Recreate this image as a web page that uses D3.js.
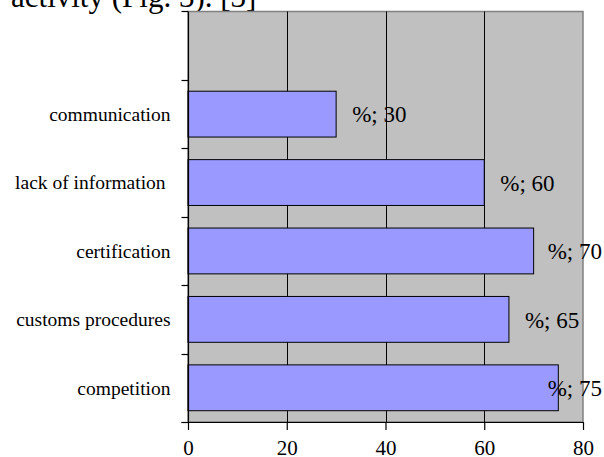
<!DOCTYPE html>
<html>
<head>
<meta charset="utf-8">
<script src="https://cdn.jsdelivr.net/npm/d3@7"></script>
<style>
  html, body { margin: 0; padding: 0; background: #fff; }
  svg { display: block; }
  text { font-family: "Liberation Serif", "Times New Roman", serif; fill: #000; }
</style>
</head>
<body>
<div id="chart"></div>
<script>
// ---- data ----
const categories = ["", "communication", "lack of information ", "certification", "customs procedures", "competition"];
const values = [null, 30, 60, 70, 65, 75];
const labelPrefix = "%; ";
const xTicks = [0, 20, 40, 60, 80];
const captionText = "activity (Fig. 3). [3]";

const W = 604, H = 457;
const plot = { left: 188, right: 583, top: 11.5, bottom: 422 };

const svg = d3.select("#chart").append("svg")
  .attr("width", W).attr("height", H);

// caption text (body text of the document, cut at top)
svg.append("text")
  .attr("x", 11).attr("y", 7)
  .style("font-size", "31px")
  .text(captionText);

const x = d3.scaleLinear().domain([0, 80]).range([plot.left, plot.right]);
const y = d3.scaleBand().domain(categories)
  .range([plot.top, plot.bottom])
  .paddingInner(0.33).paddingOuter(0.165);

// plot background
svg.append("rect")
  .attr("x", x(0)).attr("y", plot.top)
  .attr("width", x(80) - x(0)).attr("height", plot.bottom - plot.top)
  .attr("fill", "#c0c0c0")
  .attr("stroke", "#808080").attr("stroke-width", 1.5);

// vertical gridlines
svg.selectAll("line.grid").data(xTicks.filter(d => d > 0 && d < 80)).enter()
  .append("line").attr("class", "grid")
  .attr("x1", d => Math.round(x(d)) + 0.5).attr("x2", d => Math.round(x(d)) + 0.5)
  .attr("y1", plot.top).attr("y2", plot.bottom)
  .attr("stroke", "#000").attr("stroke-width", 1);

// bars
const data = categories.map((c, i) => ({ c, v: values[i] })).filter(d => d.v != null);
svg.selectAll("rect.bar").data(data).enter()
  .append("rect").attr("class", "bar")
  .attr("x", x(0))
  .attr("y", d => y(d.c))
  .attr("width", d => x(d.v) - x(0))
  .attr("height", y.bandwidth())
  .attr("fill", "#9999ff")
  .attr("stroke", "#000").attr("stroke-width", 1);

// y axis line + ticks at band boundaries
const half = (y.step() - y.bandwidth()) / 2;
const boundaries = categories.map(c => y(c) - half).concat([y(categories[categories.length - 1]) + y.bandwidth() + half]);
svg.append("line")
  .attr("x1", x(0) + 0.5).attr("x2", x(0) + 0.5)
  .attr("y1", plot.top).attr("y2", plot.bottom)
  .attr("stroke", "#000").attr("stroke-width", 1.2);
svg.selectAll("line.ytick").data(boundaries).enter()
  .append("line").attr("class", "ytick")
  .attr("x1", x(0) - 6.5).attr("x2", x(0))
  .attr("y1", d => Math.round(d) + 0.5).attr("y2", d => Math.round(d) + 0.5)
  .attr("stroke", "#000").attr("stroke-width", 1.2);

// category labels
svg.selectAll("text.cat").data(categories).enter()
  .append("text").attr("class", "cat")
  .attr("x", x(0) - 17.5)
  .attr("y", d => y(d) + y.bandwidth() / 2)
  .attr("dy", "0.35em")
  .attr("text-anchor", "end")
  .style("font-size", "19.5px")
  .style("white-space", "pre")
  .text(d => d);

// x axis
const xAxis = d3.axisBottom(x).tickValues(xTicks).tickSize(8).tickSizeOuter(0);
const gx = svg.append("g")
  .attr("transform", `translate(0,${plot.bottom})`)
  .call(xAxis);
gx.select(".domain").remove();
gx.selectAll(".tick line").attr("stroke", "#000").attr("stroke-width", 1.2);
gx.selectAll(".tick text")
  .attr("y", 33).attr("dy", 0)
  .style("font-family", "'Liberation Serif', 'Times New Roman', serif")
  .style("font-size", "21px")
  .attr("fill", "#000");
svg.append("line")
  .attr("x1", x(0) - 6.5).attr("x2", x(80))
  .attr("y1", plot.bottom + 0.5).attr("y2", plot.bottom + 0.5)
  .attr("stroke", "#000").attr("stroke-width", 1.2);

// data labels
svg.selectAll("text.val").data(data).enter()
  .append("text").attr("class", "val")
  .attr("x", d => x(d.v) + 16)
  .attr("y", d => y(d.c) + y.bandwidth() / 2)
  .attr("dy", "0.36em")
  .style("font-size", "23px")
  .text(d => labelPrefix + d.v)
  .each(function () {
    const t = d3.select(this);
    const len = this.getComputedTextLength();
    const xx = +t.attr("x");
    if (xx + len > W - 2) t.attr("x", W - 2 - len);
  });
</script>
</body>
</html>
